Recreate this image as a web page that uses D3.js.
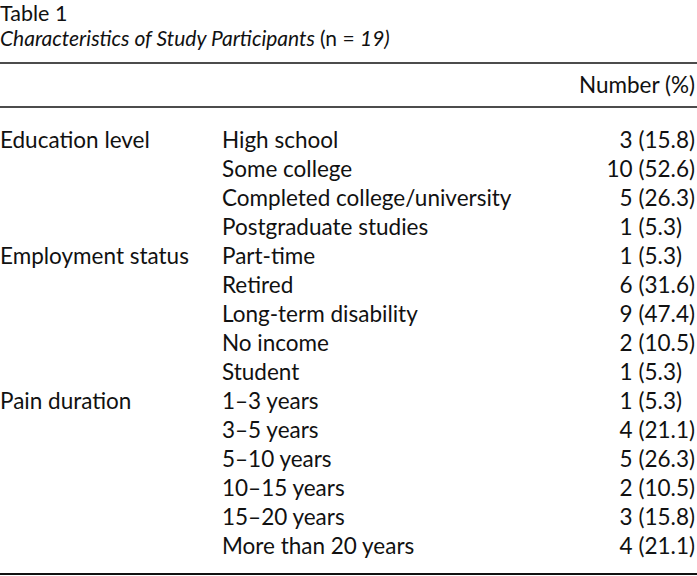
<!DOCTYPE html>
<html><head><meta charset="utf-8">
<script src="https://cdn.jsdelivr.net/npm/d3@7"></script>
<style>
html,body{margin:0;padding:0;background:#fff;}
svg{display:block;}
text{font-family:Lato,"Open Sans",sans-serif;fill:#111;}
</style></head>
<body>
<script>
const tableLabel = "Table 1";
const titleParts = [["Characteristics of Study Participants ", "italic"], ["(n = ", "normal"], ["19)", "italic"]];
const headerLabel = "Number (%)";
const groups = ["Education level", "", "", "", "Employment status", "", "", "", "", "Pain duration", "", "", "", "", ""];
const categories = ["High school", "Some college", "Completed college/university", "Postgraduate studies",
  "Part-time", "Retired", "Long-term disability", "No income", "Student",
  "1\u20133 years", "3\u20135 years", "5\u201310 years", "10\u201315 years", "15\u201320 years", "More than 20 years"];
const counts = [3, 10, 5, 1, 1, 6, 9, 2, 1, 1, 4, 5, 2, 3, 4];
const percents = ["15.8", "52.6", "26.3", "5.3", "5.3", "31.6", "47.4", "10.5", "5.3", "5.3", "21.1", "26.3", "10.5", "15.8", "21.1"];

const W = 697, H = 576;
const svg = d3.select("body").append("svg").attr("width", W).attr("height", H);
const fs = 22.5;

svg.append("text").attr("x", 0).attr("y", 21).attr("font-size", 21.5).text(tableLabel);
const t = svg.append("text").attr("x", 0).attr("y", 46).attr("font-size", 21);
titleParts.forEach(p => t.append("tspan").attr("font-style", p[1]).text(p[0]));

const rule = (y, w) => svg.append("line").attr("x1", 0).attr("x2", W).attr("y1", y).attr("y2", y)
  .attr("stroke", "#111").attr("stroke-width", w);
rule(63, 1.6);
rule(107, 1.6);
rule(574, 2);

svg.append("text").attr("x", 695).attr("y", 93).attr("font-size", fs).attr("text-anchor", "end").text(headerLabel);

const y = d3.scaleBand().domain(d3.range(categories.length)).range([126, 561]);
const data = categories.map((c, i) => ({c, g: groups[i], n: counts[i], p: percents[i], i}));
const rows = svg.selectAll("g.row").data(data)
  .join("g").attr("class", "row")
  .attr("transform", d => `translate(0,${y(d.i) + y.bandwidth() / 2 + 7})`);
rows.append("text").attr("x", 0).attr("font-size", fs).text(d => d.g);
rows.append("text").attr("x", 222).attr("font-size", fs).text(d => d.c);
const pct = rows.append("text").attr("font-size", fs).text(d => `(${d.p})`);
let maxW = 0;
pct.each(function () { maxW = Math.max(maxW, this.getComputedTextLength()); });
const parenX = 695 - maxW;
pct.attr("x", parenX);
rows.append("text").attr("x", parenX - 6).attr("font-size", fs).attr("text-anchor", "end").text(d => d.n);
</script>
</body></html>
